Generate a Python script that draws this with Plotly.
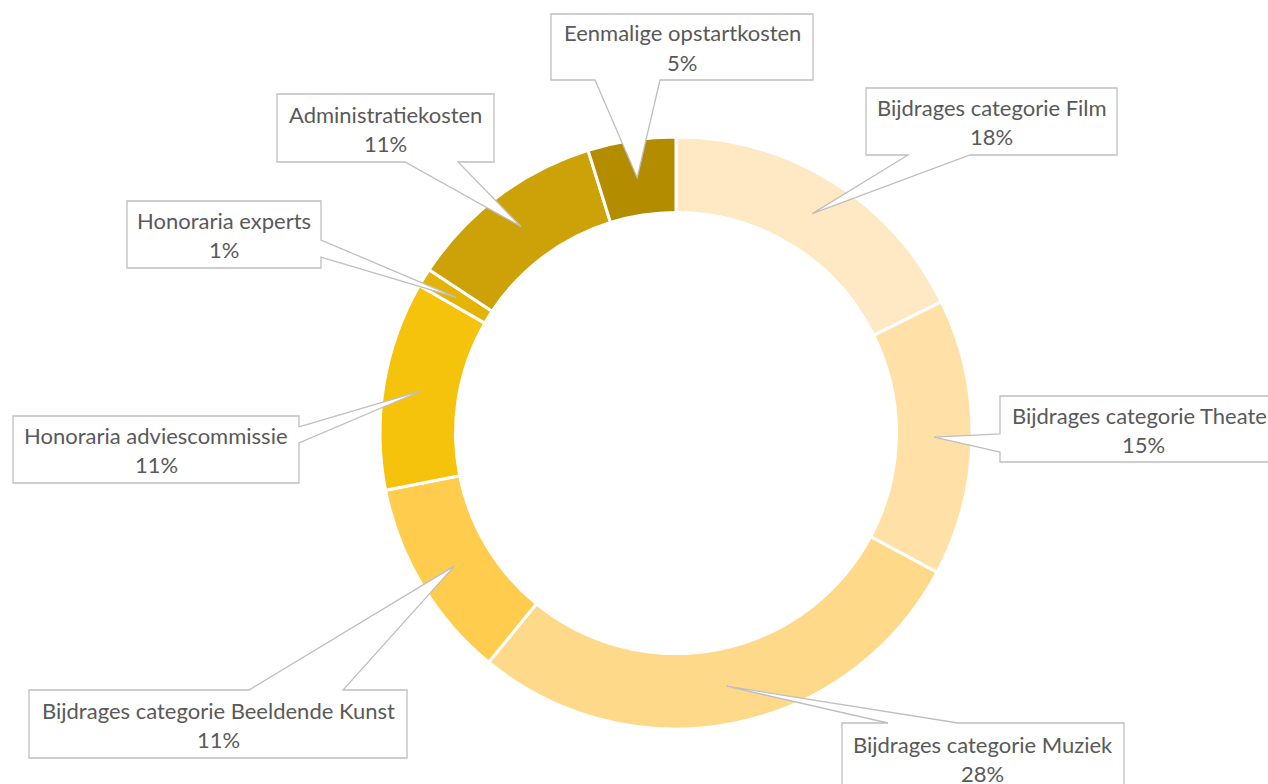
import math
import plotly.graph_objects as go

labels = [
    "Bijdrages categorie Film",
    "Bijdrages categorie Theater",
    "Bijdrages categorie Muziek",
    "Bijdrages categorie Beeldende Kunst",
    "Honoraria adviescommissie",
    "Honoraria experts",
    "Administratiekosten",
    "Eenmalige opstartkosten",
]
values = [17.7, 15.1, 28.1, 11.0, 11.4, 1.0, 10.9, 4.8]
colors = ["#FFE8C4", "#FFE0A6", "#FED98A", "#FFCC4D",
          "#F5C20C", "#E3B306", "#CCA208", "#B38C00"]

W, H = 1268, 784
cx, cy, R = 676, 433, 296
HOLE = 0.745

# callout boxes (pixels): x0, y0, x1, y1, edge holding the pointer, pointer base start/end
callouts = [
    (866, 88, 1117, 155, "bottom", 908, 970),
    (1000, 396, 1300, 462, "left", 434, 452),
    (842, 723, 1124, 800, "top", 888, 958),
    (29, 690, 407, 758, "top", 249, 343),
    (13, 416, 299, 483, "right", 427, 443),
    (127, 201, 321, 268, "right", 240, 257),
    (277, 94, 494, 162, "bottom", 405, 458),
    (551, 14, 813, 80, "bottom", 595, 660),
]
# label text centres where the box runs past the page edge
text_centres = {1: (1143, 429), 2: (983, 758)}

TEXT_COLOR = "#595959"
LINE_COLOR = "#BFBFBF"
FONT = "Lato"
FSIZE = 22


def px(x, y):
    return x / W, 1 - y / H


fig = go.Figure()
fig.add_trace(go.Pie(
    labels=labels, values=values, sort=False, direction="clockwise", rotation=0,
    hole=HOLE, textinfo="none", showlegend=False,
    marker=dict(colors=colors, line=dict(color="white", width=3)),
    domain=dict(x=[(cx - R) / W, (cx + R) / W], y=[1 - (cy + R) / H, 1 - (cy - R) / H]),
))

total = sum(values)
cum = 0.0
rm = R * (1 + HOLE) / 2
shapes = []
annotations = []
for i, (lab, v, co) in enumerate(zip(labels, values, callouts)):
    mid = (cum + v / 2) / total
    cum += v
    th = 2 * math.pi * mid
    tx, ty = cx + rm * math.sin(th), cy - rm * math.cos(th)
    x0, y0, x1, y1, edge, b0, b1 = co
    pts = [(x0, y0)]
    if edge == "top":
        pts += [(b0, y0), (tx, ty), (b1, y0)]
    pts.append((x1, y0))
    if edge == "right":
        pts += [(x1, b0), (tx, ty), (x1, b1)]
    pts.append((x1, y1))
    if edge == "bottom":
        pts += [(b1, y1), (tx, ty), (b0, y1)]
    pts.append((x0, y1))
    if edge == "left":
        pts += [(x0, b1), (tx, ty), (x0, b0)]
    path = "M " + " L ".join("%.5f,%.5f" % px(a, b) for a, b in pts) + " Z"
    shapes.append(dict(type="path", xref="paper", yref="paper", path=path,
                       fillcolor="white", line=dict(color=LINE_COLOR, width=1.3),
                       layer="above"))
    bx, by = text_centres.get(i, ((x0 + x1) / 2, (y0 + y1) / 2))
    pct = "%.0f%%" % (v / total * 100)
    for txt, dy in ((lab, -14), (pct, 15)):
        X, Y = px(bx, by + dy)
        annotations.append(dict(xref="paper", yref="paper", x=X, y=Y, text=txt,
                                showarrow=False, xanchor="center", yanchor="middle",
                                font=dict(family=FONT, size=FSIZE, color=TEXT_COLOR)))

fig.update_layout(
    width=W, height=H, margin=dict(l=0, r=0, t=0, b=0),
    paper_bgcolor="white", plot_bgcolor="white",
    shapes=shapes, annotations=annotations,
)
fig.write_html("out.html", config={"displayModeBar": False},
               post_script="document.body.style.margin='0';document.body.style.overflow='hidden';")
